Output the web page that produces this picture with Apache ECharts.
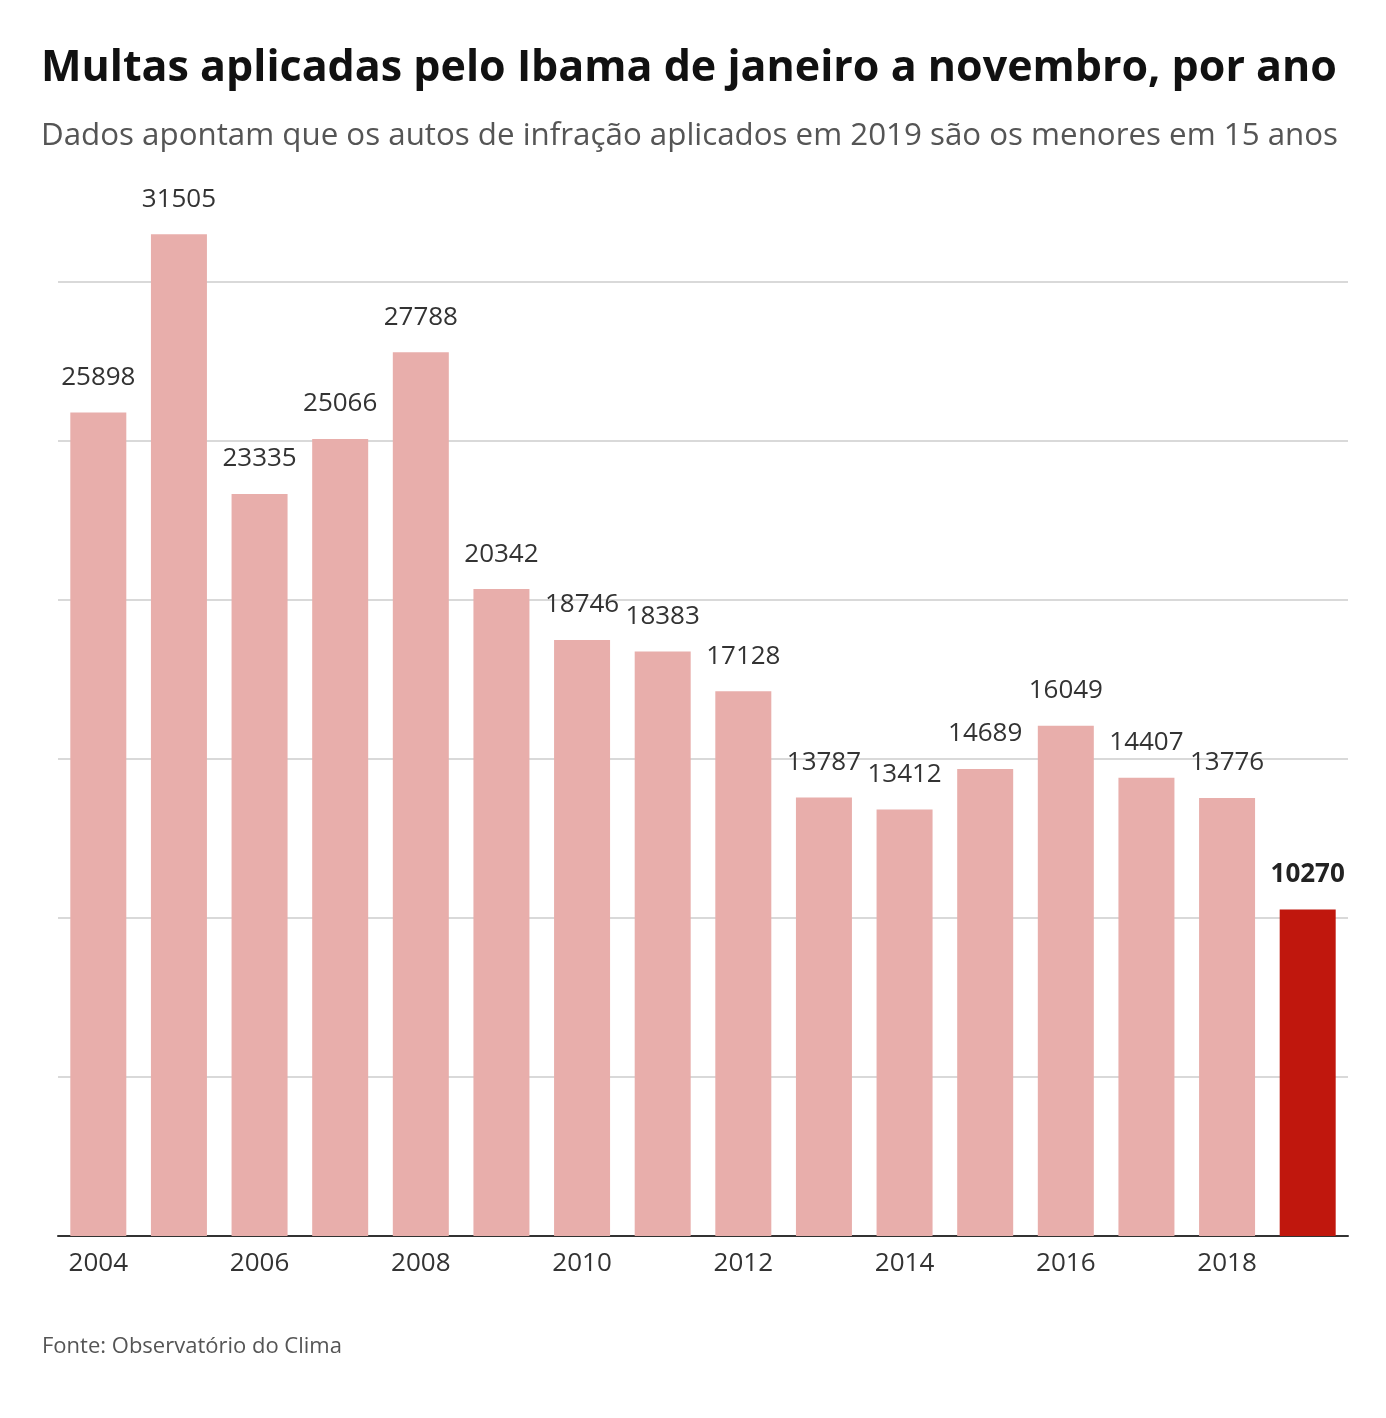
<!DOCTYPE html>
<html>
<head>
<meta charset="utf-8">
<script src="https://cdn.jsdelivr.net/npm/echarts@6/dist/echarts.min.js"></script>
<style>
  html, body { margin: 0; padding: 0; background: #fff; }
  #main { width: 1386px; height: 1418px; }
</style>
</head>
<body>
<div id="main"></div>
<script>
// dados: multas do Ibama, jan-nov
var anos = ['2004', '2005', '2006', '2007', '2008', '2009', '2010', '2011',
            '2012', '2013', '2014', '2015', '2016', '2017', '2018', '2019'];
var multas = [25898, 31505, 23335, 25066, 27788, 20342, 18746, 18383,
              17128, 13787, 13412, 14689, 16049, 14407, 13776, 10270];
var destaque = '2019';

var myChart = echarts.init(document.getElementById('main'));

var dados = multas.map(function (v, i) {
    if (anos[i] === destaque) {
        return {
            value: v,
            itemStyle: { color: '#c0170d' },
            label: { fontWeight: 'bold', color: '#222' }
        };
    }
    return v;
});

var option = {
    backgroundColor: '#fff',
    title: [
        {
            text: 'Multas aplicadas pelo Ibama de janeiro a novembro, por ano',
            left: 36,
            top: 42,
            textStyle: {
                fontFamily: 'Open Sans',
                fontWeight: 'bold',
                fontSize: 43,
                color: '#111'
            }
        },
        {
            text: 'Dados apontam que os autos de infração aplicados em 2019 são os menores em 15 anos',
            left: 36,
            top: 116,
            textStyle: {
                fontFamily: 'Open Sans',
                fontWeight: 'normal',
                fontSize: 31.3,
                color: '#555'
            }
        },
        {
            text: 'Fonte: Observatório do Clima',
            left: 37,
            top: 1331,
            textStyle: {
                fontFamily: 'Open Sans',
                fontWeight: 'normal',
                fontSize: 22,
                color: '#555'
            }
        }
    ],
    grid: {
        left: 58,
        right: 38,
        top: 123,
        bottom: 182
    },
    xAxis: {
        type: 'category',
        data: anos,
        axisLine: { lineStyle: { color: '#333', width: 2 } },
        axisTick: { show: false },
        axisLabel: {
            interval: 1,
            margin: 15,
            fontFamily: 'Open Sans',
            fontSize: 26,
            color: '#333'
        }
    },
    yAxis: {
        type: 'value',
        min: 0,
        max: 35000,
        interval: 5000,
        axisLabel: { show: false },
        axisLine: { show: false },
        axisTick: { show: false },
        splitLine: {
            showMaxLine: false,
            lineStyle: { color: '#d9d9d9', width: 2 }
        }
    },
    series: [
        {
            type: 'bar',
            data: dados,
            barWidth: 56,
            itemStyle: { color: '#e8aeab' },
            label: {
                show: true,
                position: 'top',
                distance: 22,
                fontFamily: 'Open Sans',
                fontSize: 26,
                color: '#333'
            }
        }
    ]
};

myChart.setOption(option);
</script>
</body>
</html>
